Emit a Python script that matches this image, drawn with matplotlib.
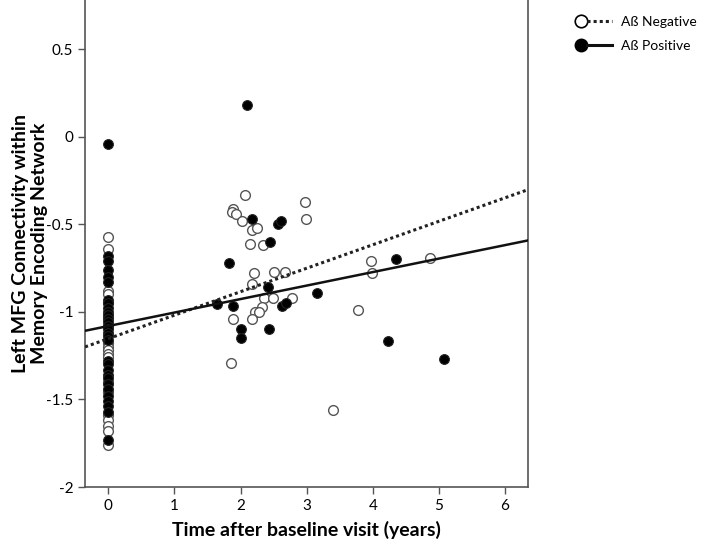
import numpy as np
import matplotlib
matplotlib.use("Agg")
import matplotlib.pyplot as plt
from matplotlib.lines import Line2D
from matplotlib.legend_handler import HandlerTuple

plt.rcParams['font.family'] = ['Lato', 'DejaVu Sans']

# ================================
# Дані
# ================================
# Aß negative (порожні кружки)
neg_base = [-0.57, -0.64, -0.88, -0.90, -0.95, -1.03, -1.08, -1.18, -1.20,
            -1.22, -1.24, -1.26, -1.40, -1.46, -1.59, -1.62, -1.65, -1.68, -1.76]
neg_time = [2.07, 1.89, 1.87, 1.93, 2.02, 2.17, 2.25, 2.98, 2.99, 2.15, 2.34,
            2.20, 2.51, 2.67, 2.17, 2.35, 2.49, 2.78, 2.32, 2.22, 2.28, 2.18,
            1.89, 3.77, 1.86, 3.40, 3.97, 3.99, 4.86]
neg_val = [-0.335, -0.415, -0.43, -0.44, -0.48, -0.53, -0.52, -0.375, -0.47, -0.61,
           -0.62, -0.78, -0.77, -0.77, -0.84, -0.92, -0.92, -0.92, -0.97, -1.00,
           -1.00, -1.04, -1.04, -0.99, -1.29, -1.56, -0.71, -0.78, -0.69]

# Aß positive (зафарбовані кружки)
pos_base = [-0.04, -0.68, -0.71, -0.76, -0.80, -0.83, -0.93, -0.95, -0.98, -1.00,
            -1.02, -1.04, -1.06, -1.08, -1.10, -1.12, -1.14, -1.16, -1.28, -1.30,
            -1.33, -1.36, -1.38, -1.41, -1.44, -1.48, -1.51, -1.54, -1.57, -1.73]
pos_time = [2.10, 2.18, 2.56, 2.61, 2.44, 1.82, 2.41, 3.15, 1.64, 1.88, 2.62,
            2.69, 2.01, 2.43, 2.01, 4.35, 4.23, 5.08]
pos_val = [0.18, -0.47, -0.50, -0.48, -0.60, -0.72, -0.86, -0.89, -0.955, -0.965,
           -0.965, -0.95, -1.10, -1.10, -1.15, -0.70, -1.165, -1.27]

# Лінії регресії (перетин, нахил)
neg_fit = (-1.153, 0.134)
pos_fit = (-1.081, 0.077)

# ================================
# Візуалізація
# ================================
fig = plt.figure(figsize=(7.09, 5.43), dpi=100)
ax = fig.add_axes([0.12, 0.103, 0.625, 0.897])

xmin, xmax = -0.35, 6.35
xs = np.array([xmin, xmax])
ax.plot(xs, neg_fit[0] + neg_fit[1] * xs, color='#222222', lw=2.2, ls=(0, (1, 1)), zorder=4)
ax.plot(xs, pos_fit[0] + pos_fit[1] * xs, color='#111111', lw=1.8, zorder=4)

ax.plot([0] * len(neg_base) + neg_time, neg_base + neg_val, 'o', ms=7,
        mfc='white', mec='#555555', mew=1.0, ls='none', zorder=2)
ax.plot([0] * len(pos_base) + pos_time, pos_base + pos_val, 'o', ms=7,
        mfc='black', mec='#222222', mew=0.8, ls='none', zorder=3)

ax.set_xlim(xmin, xmax)
ax.set_ylim(-2, 0.78)
ax.set_xticks(range(0, 7))
ax.set_yticks([0.5, 0, -0.5, -1, -1.5, -2])
ax.set_yticklabels(['0.5', '0', '-0.5', '-1', '-1.5', '-2'])
ax.tick_params(labelsize=11, length=5, color='#555555', width=1)

ax.spines['top'].set_visible(False)
for s in ['left', 'right', 'bottom']:
    ax.spines[s].set_color('#555555')
    ax.spines[s].set_linewidth(1.2)

# Підписи осей
fig.text(306 / 709, 1 - 530 / 543, "Time after baseline visit (years)",
         fontsize=14, fontweight='bold', ha='center', va='center')
fig.text(30 / 709, 1 - 243 / 543, "Left MFG Connectivity within\nMemory Encoding Network",
         fontsize=14, fontweight='bold', ha='center', va='center', rotation=90,
         multialignment='center', linespacing=1.2)

# Легенда
h_neg = (Line2D([], [], marker='o', ms=9, mfc='white', mec='black', mew=1.2, ls='none'),
         Line2D([], [], color='#222222', lw=2.2, ls=(0, (1, 1))))
h_pos = (Line2D([], [], marker='o', ms=9, mfc='black', mec='black', ls='none'),
         Line2D([], [], color='#111111', lw=2.2))
fig.legend([h_neg, h_pos], ['Aß Negative', 'Aß Positive'],
           handler_map={tuple: HandlerTuple(ndivide=None, pad=-0.4)},
           loc='upper left', bbox_to_anchor=(568 / 709, 1 - 16 / 543), frameon=False,
           borderpad=0, borderaxespad=0,
           fontsize=10, handlelength=3.2, handletextpad=0.6, labelspacing=0.85)

fig.savefig("out.png", dpi=100)
